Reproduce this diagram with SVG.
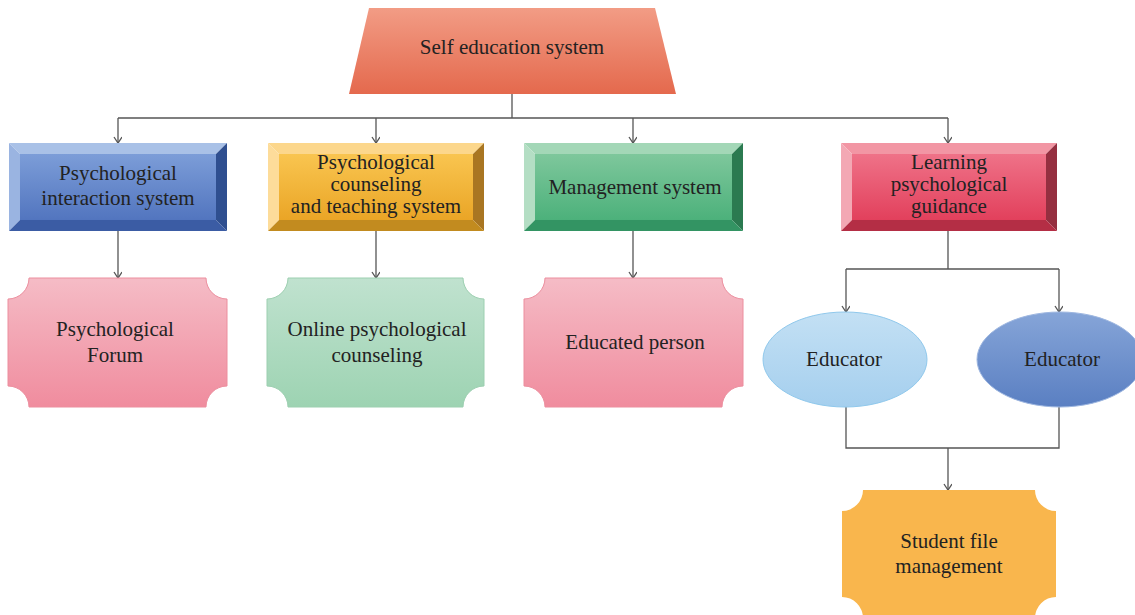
<svg xmlns="http://www.w3.org/2000/svg" width="1135" height="615" viewBox="0 0 1135 615">
  <defs>
    <style>
      text { font-family: "Liberation Serif", "DejaVu Serif", serif; font-size: 21px; fill: #222; text-anchor: middle; }
      .wire { fill: none; stroke: #555; stroke-width: 1.3; }
      .arrow { marker-end: url(#chev); }
    </style>
    <marker id="chev" markerUnits="userSpaceOnUse" markerWidth="10" markerHeight="10" refX="7" refY="4" orient="auto">
      <path d="M1,0 L7,4 L1,8" fill="none" stroke="#555" stroke-width="1.3"/>
    </marker>
    <linearGradient id="gTrap" x1="0" y1="0" x2="0" y2="1">
      <stop offset="0" stop-color="#f29c85"/>
      <stop offset="1" stop-color="#e4694d"/>
    </linearGradient>
    <linearGradient id="gBlue" x1="0" y1="0" x2="0" y2="1">
      <stop offset="0" stop-color="#7c9dd8"/>
      <stop offset="1" stop-color="#5275bf"/>
    </linearGradient>
    <linearGradient id="gOrange" x1="0" y1="0" x2="0" y2="1">
      <stop offset="0" stop-color="#f9c550"/>
      <stop offset="1" stop-color="#eaa526"/>
    </linearGradient>
    <linearGradient id="gGreen" x1="0" y1="0" x2="0" y2="1">
      <stop offset="0" stop-color="#7ec79c"/>
      <stop offset="1" stop-color="#4cb17b"/>
    </linearGradient>
    <linearGradient id="gRed" x1="0" y1="0" x2="0" y2="1">
      <stop offset="0" stop-color="#ef7288"/>
      <stop offset="1" stop-color="#e2405c"/>
    </linearGradient>
    <linearGradient id="gPink" x1="0" y1="0" x2="0" y2="1">
      <stop offset="0" stop-color="#f5bcc6"/>
      <stop offset="1" stop-color="#f08c9e"/>
    </linearGradient>
    <linearGradient id="gMint" x1="0" y1="0" x2="0" y2="1">
      <stop offset="0" stop-color="#c0e2cf"/>
      <stop offset="1" stop-color="#9dd3b2"/>
    </linearGradient>
    <linearGradient id="gSky" x1="0" y1="0" x2="0" y2="1">
      <stop offset="0" stop-color="#c3e0f4"/>
      <stop offset="1" stop-color="#a5cfee"/>
    </linearGradient>
    <linearGradient id="gNavy" x1="0" y1="0" x2="0" y2="1">
      <stop offset="0" stop-color="#86a5d8"/>
      <stop offset="1" stop-color="#5a7fc2"/>
    </linearGradient>
  </defs>

  <rect width="1135" height="615" fill="#ffffff"/>

  <!-- connectors -->
  <g id="connectors">
    <path class="wire" d="M512,94 V118 M118,118 H948"/>
    <path class="wire arrow" d="M118,118 V143"/>
    <path class="wire arrow" d="M376,118 V143"/>
    <path class="wire arrow" d="M633,118 V143"/>
    <path class="wire arrow" d="M948,118 V143"/>
    <path class="wire arrow" d="M118,231 V278"/>
    <path class="wire arrow" d="M376,231 V278"/>
    <path class="wire arrow" d="M633,231 V278"/>
    <path class="wire" d="M948,231 V269 M846,269 H1059"/>
    <path class="wire arrow" d="M846,269 V312"/>
    <path class="wire arrow" d="M1059,269 V312"/>
    <path class="wire" d="M846,407 V448 H1059 V407"/>
    <path class="wire arrow" d="M948,448 V490"/>
  </g>

  <!-- root -->
  <g id="self-education">
    <polygon points="369,8 655,8 676,94 349,94" fill="url(#gTrap)"/>
    <text x="512" y="54">Self education system</text>
  </g>

  <!-- bevelled boxes -->
  <g id="interaction-system">
    <polygon points="9,143 227,143 216,154 20,154" fill="#a9c1e7"/>
    <polygon points="9,143 20,154 20,220 9,231" fill="#9ab4e1"/>
    <polygon points="227,143 227,231 216,220 216,154" fill="#2f4f90"/>
    <polygon points="9,231 20,220 216,220 227,231" fill="#3b5ca4"/>
    <rect x="20" y="154" width="196" height="66" fill="url(#gBlue)"/>
    <text x="118" y="180">Psychological</text>
    <text x="118" y="205">interaction system</text>
  </g>

  <g id="counseling-teaching">
    <polygon points="268,143 484,143 473,154 279,154" fill="#fcd78c"/>
    <polygon points="268,143 279,154 279,220 268,231" fill="#fddc9a"/>
    <polygon points="484,143 484,231 473,220 473,154" fill="#a97622"/>
    <polygon points="268,231 279,220 473,220 484,231" fill="#c28b1f"/>
    <rect x="279" y="154" width="194" height="66" fill="url(#gOrange)"/>
    <text x="376" y="169">Psychological</text>
    <text x="376" y="191">counseling</text>
    <text x="376" y="213">and teaching system</text>
  </g>

  <g id="management-system">
    <polygon points="524,143 743,143 732,154 535,154" fill="#a3d7b7"/>
    <polygon points="524,143 535,154 535,220 524,231" fill="#b4dec4"/>
    <polygon points="743,143 743,231 732,220 732,154" fill="#2b7a50"/>
    <polygon points="524,231 535,220 732,220 743,231" fill="#339463"/>
    <rect x="535" y="154" width="197" height="66" fill="url(#gGreen)"/>
    <text x="635" y="194">Management system</text>
  </g>

  <g id="learning-guidance">
    <polygon points="841,143 1057,143 1046,154 852,154" fill="#f296a4"/>
    <polygon points="841,143 852,154 852,220 841,231" fill="#f3a8b4"/>
    <polygon points="1057,143 1057,231 1046,220 1046,154" fill="#952f40"/>
    <polygon points="841,231 852,220 1046,220 1057,231" fill="#b42e45"/>
    <rect x="852" y="154" width="194" height="66" fill="url(#gRed)"/>
    <text x="949" y="169">Learning</text>
    <text x="949" y="191">psychological</text>
    <text x="949" y="213">guidance</text>
  </g>

  <!-- notched boxes -->
  <g id="forum">
    <path d="M29,278 H206 A21 21 0 0 0 227,299 V386 A21 21 0 0 0 206,407 H29 A21 21 0 0 0 8,386 V299 A21 21 0 0 0 29,278 Z" fill="url(#gPink)" stroke="#ec8e9e" stroke-width="1"/>
    <text x="115" y="336">Psychological</text>
    <text x="115" y="362">Forum</text>
  </g>

  <g id="online-counseling">
    <path d="M288,278 H463 A21 21 0 0 0 484,299 V386 A21 21 0 0 0 463,407 H288 A21 21 0 0 0 267,386 V299 A21 21 0 0 0 288,278 Z" fill="url(#gMint)" stroke="#9ccfb0" stroke-width="1"/>
    <text x="377" y="336">Online psychological</text>
    <text x="377" y="362">counseling</text>
  </g>

  <g id="educated-person">
    <path d="M545,278 H722 A21 21 0 0 0 743,299 V386 A21 21 0 0 0 722,407 H545 A21 21 0 0 0 524,386 V299 A21 21 0 0 0 545,278 Z" fill="url(#gPink)" stroke="#ec8e9e" stroke-width="1"/>
    <text x="635" y="349">Educated person</text>
  </g>

  <!-- educators -->
  <g id="educator-light">
    <ellipse cx="845" cy="359.5" rx="82" ry="47.5" fill="url(#gSky)" stroke="#8fc8ec" stroke-width="1"/>
    <text x="844" y="366">Educator</text>
  </g>

  <g id="educator-dark">
    <ellipse cx="1060" cy="359.5" rx="83" ry="47.5" fill="url(#gNavy)" stroke="#9db6e0" stroke-width="1"/>
    <text x="1062" y="366">Educator</text>
  </g>

  <g id="student-file">
    <path d="M863,490 H1035 A21 21 0 0 0 1056,511 V597 A21 21 0 0 0 1035,618 H863 A21 21 0 0 0 842,597 V511 A21 21 0 0 0 863,490 Z" fill="#f9b64d"/>
    <text x="949" y="548">Student file</text>
    <text x="949" y="573">management</text>
  </g>
</svg>
